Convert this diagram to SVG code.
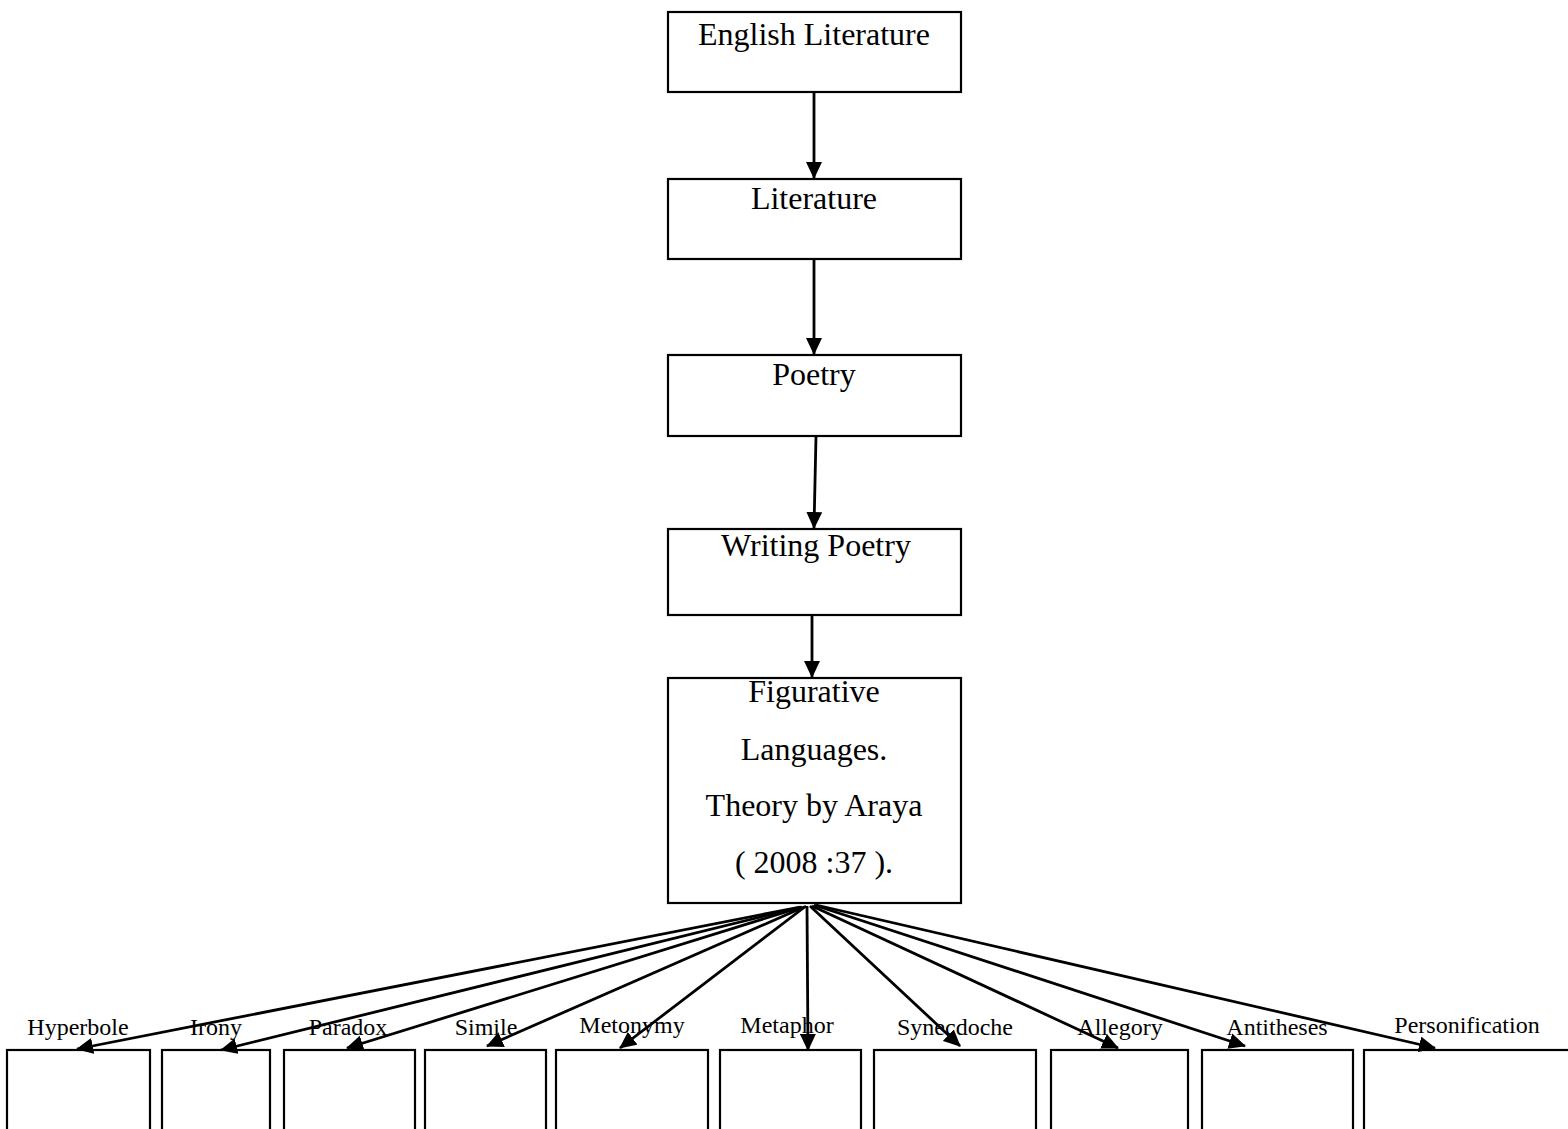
<svg xmlns="http://www.w3.org/2000/svg" width="1568" height="1129" viewBox="0 0 1568 1129">
<style>
.box{fill:#fff;stroke:#000;stroke-width:2.2}
.t{font-family:"Liberation Serif","Times New Roman",serif;font-size:32px;fill:#000;text-anchor:middle}
.s{font-family:"Liberation Serif","Times New Roman",serif;font-size:24px;fill:#000;text-anchor:middle}
.c{stroke:#000;stroke-width:2.8;fill:none;marker-end:url(#ah)}
</style>
<defs>
<marker id="ah" markerUnits="userSpaceOnUse" markerWidth="17" markerHeight="16" viewBox="0 0 17 16" refX="16" refY="8" orient="auto">
<path d="M0,0 L17,8 L0,16 Z" fill="#000"/>
</marker>
</defs>
<rect width="1568" height="1129" fill="#fff"/>
<g id="n-english"><rect class="box" x="668" y="12" width="293" height="80"/><text class="t" x="814" y="45">English Literature</text></g>
<g id="n-literature"><rect class="box" x="668" y="179" width="293" height="80"/><text class="t" x="814" y="209">Literature</text></g>
<g id="n-poetry"><rect class="box" x="668" y="355" width="293" height="81"/><text class="t" x="814" y="385">Poetry</text></g>
<g id="n-writing"><rect class="box" x="668" y="529" width="293" height="86"/><text class="t" x="816" y="556">Writing Poetry</text></g>
<g id="n-figurative"><rect class="box" x="668" y="678" width="293" height="225"/>
<text class="t" x="814" y="702">Figurative</text>
<text class="t" x="814" y="760">Languages.</text>
<text class="t" x="814" y="816">Theory by Araya</text>
<text class="t" x="814" y="873">( 2008 :37 ).</text></g>
<g id="n-hyperbole"><rect class="box" x="7" y="1050" width="143" height="100"/><text class="s" x="78" y="1035">Hyperbole</text></g>
<g id="n-irony"><rect class="box" x="162" y="1050" width="108" height="100"/><text class="s" x="216" y="1035">Irony</text></g>
<g id="n-paradox"><rect class="box" x="284" y="1050" width="131" height="100"/><text class="s" x="348" y="1035">Paradox</text></g>
<g id="n-simile"><rect class="box" x="425" y="1050" width="121" height="100"/><text class="s" x="486" y="1035">Simile</text></g>
<g id="n-metonymy"><rect class="box" x="556" y="1050" width="152" height="100"/><text class="s" x="632" y="1033">Metonymy</text></g>
<g id="n-metaphor"><rect class="box" x="720" y="1050" width="141" height="100"/><text class="s" x="787" y="1033">Metaphor</text></g>
<g id="n-synecdoche"><rect class="box" x="874" y="1050" width="162" height="100"/><text class="s" x="955" y="1035">Synecdoche</text></g>
<g id="n-allegory"><rect class="box" x="1051" y="1050" width="137" height="100"/><text class="s" x="1120" y="1035">Allegory</text></g>
<g id="n-antitheses"><rect class="box" x="1202" y="1050" width="151" height="100"/><text class="s" x="1277" y="1035">Antitheses</text></g>
<g id="n-personification"><rect class="box" x="1364" y="1050" width="220" height="100"/><text class="s" x="1467" y="1033">Personification</text></g>
<g id="connectors">
<line class="c" x1="814" y1="92" x2="814" y2="178"/>
<line class="c" x1="814" y1="259" x2="814" y2="354"/>
<line class="c" x1="816" y1="436" x2="814" y2="528"/>
<line class="c" x1="812" y1="615" x2="812" y2="677"/>
<line class="c" x1="800" y1="907" x2="77" y2="1049"/>
<line class="c" x1="801" y1="907" x2="221" y2="1050"/>
<line class="c" x1="802" y1="907" x2="347" y2="1048"/>
<line class="c" x1="804" y1="907" x2="487" y2="1046"/>
<line class="c" x1="806" y1="906" x2="620" y2="1048"/>
<line class="c" x1="807" y1="906" x2="808" y2="1050"/>
<line class="c" x1="810" y1="906" x2="960" y2="1046"/>
<line class="c" x1="812" y1="906" x2="1118" y2="1048"/>
<line class="c" x1="814" y1="905" x2="1245" y2="1046"/>
<line class="c" x1="816" y1="905" x2="1435" y2="1048"/>
</g>
</svg>
